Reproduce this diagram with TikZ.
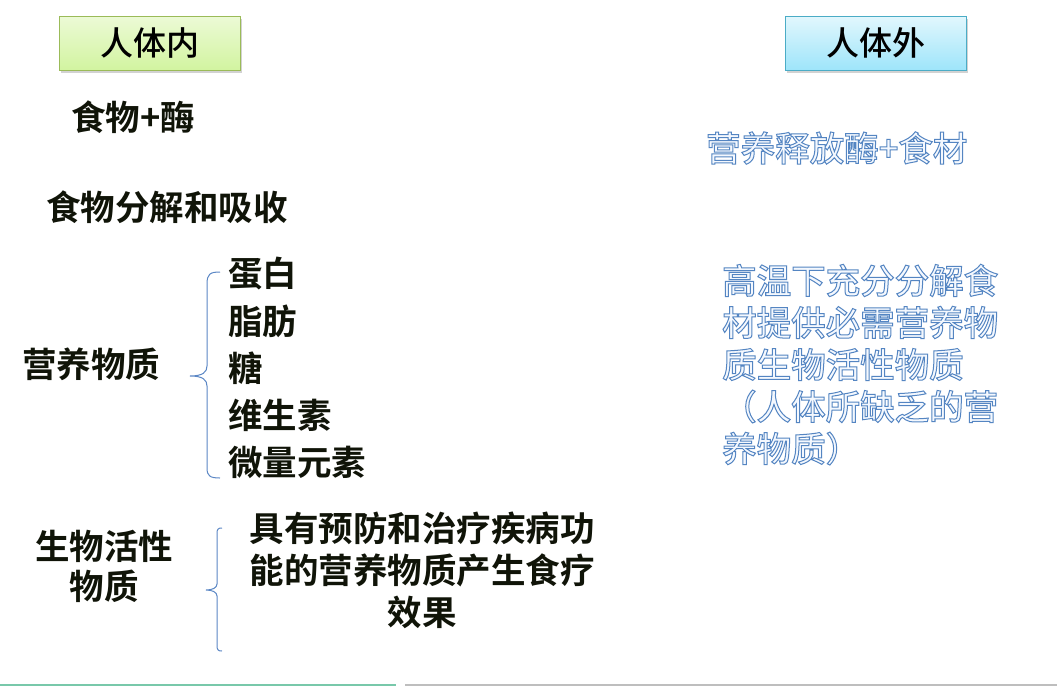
\documentclass[tikz,border=0pt]{standalone}
\usepackage{fontspec}
\usetikzlibrary{shadows}
\newfontfamily\cjkb{Noto Sans CJK SC Bold}
\newfontfamily\cjkm{Noto Sans CJK SC Medium}
\newfontfamily\cjk{Noto Sans CJK SC}
\definecolor{txt}{HTML}{101408}
\definecolor{brc}{HTML}{5B87C5}
\definecolor{olfill}{HTML}{F4F8FE}
\definecolor{gborder}{RGB}{155,187,89}
\definecolor{gtop}{RGB}{236,250,214}
\definecolor{gbot}{RGB}{210,244,160}
\definecolor{cborder}{RGB}{75,172,198}
\definecolor{ctop}{RGB}{226,247,253}
\definecolor{cbot}{RGB}{158,229,250}
\definecolor{edgegreen}{RGB}{120,200,170}
\definecolor{edgegray}{RGB}{190,190,190}
\newcommand{\oltext}[1]{\special{pdf:literal direct 2 Tr 1.0 w 0.33 0.52 0.76 RG}#1\special{pdf:literal direct 0 Tr}}
\tikzset{
  hdr/.style={draw, line width=1pt, minimum width=181pt, minimum height=54pt, inner sep=0pt,
    font=\cjkm\fontsize{33}{33}\selectfont, text=black,
    drop shadow={shadow xshift=1.5pt, shadow yshift=-2.5pt, opacity=0.35}},
  lbl/.style={font=\cjkb\fontsize{34.5}{34.5}\selectfont, text=txt, inner sep=0pt},
  rtx/.style={font=\cjkm\fontsize{34.5}{42}\selectfont, text=olfill, inner sep=0pt, align=left},
  brace/.style={draw=brc, line width=1pt},
}
\begin{document}
\begin{tikzpicture}[x=1pt,y=-1pt]
\useasboundingbox (0,0) rectangle (1057,686);
\fill[white] (0,0) rectangle (1057,686);
% header boxes
\node[hdr, draw=gborder, top color=gtop, bottom color=gbot] (inbox) at (149.5,43) {人体内};
\node[hdr, draw=cborder, top color=ctop, bottom color=cbot] (outbox) at (875.5,43) {人体外};
% left texts
\node[lbl, anchor=west] (food) at (71,117) {食物+酶};
\node[lbl, anchor=west] (digest) at (46,207) {食物分解和吸收};
\node[lbl, anchor=west] (nutr) at (22,364) {营养物质};
\node[lbl, anchor=west] (n1) at (228,274) {蛋白};
\node[lbl, anchor=west] (n2) at (228,321) {脂肪};
\node[lbl, anchor=west] (n3) at (228,368) {糖};
\node[lbl, anchor=west] (n4) at (228,415) {维生素};
\node[lbl, anchor=west] (n5) at (228,462) {微量元素};
\node[lbl, align=center, font=\cjkb\fontsize{34.5}{40}\selectfont] (bio) at (104,566) {生物活性\\物质};
\node[lbl, align=center, font=\cjkb\fontsize{34.5}{42}\selectfont] (effect) at (422,570) {具有预防和治疗疾病功\\能的营养物质产生食疗\\效果};
% braces
\coordinate (b1t) at (220,272);
\coordinate (b1m) at (190,376);
\coordinate (b1b) at (220,478);
\draw[brace] (b1t) .. controls (210,272) and (207,274) .. (207,284) -- (207,366)
  .. controls (207,372) and (203,376) .. (b1m)
  .. controls (203,376) and (207,380) .. (207,386) -- (207,468)
  .. controls (207,476) and (210,478) .. (b1b);
\coordinate (b2t) at (222,528);
\coordinate (b2m) at (206,590);
\coordinate (b2b) at (222,651);
\draw[brace] (b2t) .. controls (218,528) and (217,529) .. (217,534) -- (217,584)
  .. controls (217,588) and (212,590) .. (b2m)
  .. controls (212,590) and (217,592) .. (217,596) -- (217,645)
  .. controls (217,650) and (218,651) .. (b2b);
% right texts
\node[rtx, anchor=west] (release) at (706,148) {\oltext{营养释放酶+食材}};
\node[rtx, anchor=north west] (heat) at (722,264) {\oltext{高温下充分分解食}\\\oltext{材提供必需营养物}\\\oltext{质生物活性物质}\\\oltext{（人体所缺乏的营}\\\oltext{养物质）}};
% bottom edge lines
\coordinate (e1) at (0,685);
\coordinate (e2) at (396,685);
\coordinate (e3) at (405,685);
\coordinate (e4) at (1057,685);
\draw[line width=1.5pt, edgegreen] (e1) -- (e2);
\draw[line width=1.5pt, edgegray] (e3) -- (e4);
\end{tikzpicture}
\end{document}
